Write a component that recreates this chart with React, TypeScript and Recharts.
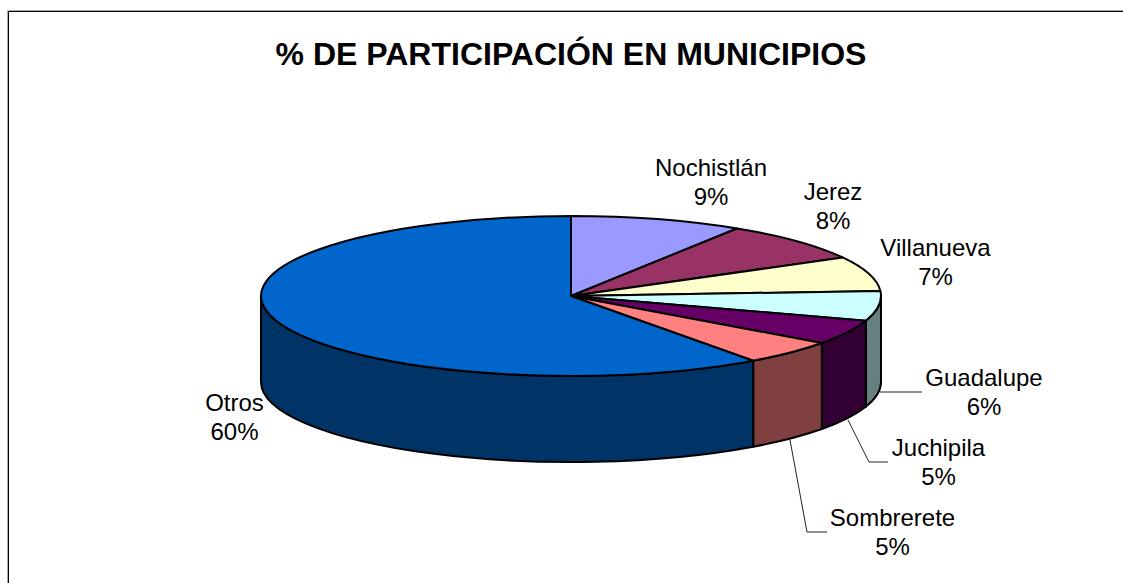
import { PieChart, Pie, Cell } from 'recharts';

const municipios = ['Nochistlán', 'Jerez', 'Villanueva', 'Guadalupe', 'Juchipila', 'Sombrerete', 'Otros'];
const participacion = [9, 8, 7, 6, 5, 5, 60];
const topColors = ['#9999FF', '#993366', '#FFFFCC', '#CCFFFF', '#660066', '#FF8080', '#0066CC'];
const wallColors = ['#4D4D80', '#4D1A33', '#808066', '#668080', '#330033', '#804040', '#003366'];

const chartData = municipios.map((name, i) => ({ name, value: participacion[i] }));

// pie is squashed by hand, recharts only knows circles
const CX = 571;
const CY = 296;
const RX = 310;
const RY = 80;
const DEPTH = 86;
const FONT = 'Liberation Sans';

// label anchor and optional leader polyline, by municipio
const labelLayout: Record<string, { x: number; y: number; leader?: number[][] }> = {
  'Nochistlán': { x: 711, y: 176 },
  'Jerez': { x: 833, y: 200 },
  'Villanueva': { x: 935.5, y: 256 },
  'Guadalupe': { x: 984, y: 386, leader: [[880, 392], [922, 392]] },
  'Juchipila': { x: 938.5, y: 456, leader: [[848, 420], [869, 462], [888, 462]] },
  'Sombrerete': { x: 892.5, y: 526, leader: [[790, 440], [807, 532], [827, 532]] },
  'Otros': { x: 234.5, y: 411 },
};

const px = (deg: number) => CX + RX * Math.cos((deg * Math.PI) / 180);
const py = (deg: number) => CY - RY * Math.sin((deg * Math.PI) / 180);

const SliceShape = (props: any) => {
  const { startAngle, endAngle, index } = props;
  const top = `M${CX},${CY} L${px(startAngle)},${py(startAngle)} A${RX},${RY} 0 ${
    startAngle - endAngle > 180 ? 1 : 0
  } 1 ${px(endAngle)},${py(endAngle)} Z`;

  // front wall: only the part of the arc below the horizon, 0 to -180 going clockwise
  const from = Math.min(startAngle, 0);
  const to = Math.max(endAngle, -180);
  const wall =
    from > to
      ? `M${px(from)},${py(from)} A${RX},${RY} 0 0 1 ${px(to)},${py(to)} L${px(to)},${py(to) + DEPTH} A${RX},${RY} 0 0 0 ${px(from)},${py(from) + DEPTH} Z`
      : null;

  return (
    <g>
      {wall && <path d={wall} fill={wallColors[index]} stroke="#000" strokeWidth={2} strokeLinejoin="round" />}
      <path d={top} fill={topColors[index]} stroke="#000" strokeWidth={2} strokeLinejoin="round" />
    </g>
  );
};

const SliceLabel = (props: any) => {
  const item = labelLayout[props.name];
  if (!item) return null;
  return (
    <g>
      {item.leader && (
        <polyline points={item.leader.map((p) => p.join(',')).join(' ')} fill="none" stroke="#222" strokeWidth={1} />
      )}
      <text x={item.x} y={item.y} textAnchor="middle" fontFamily={FONT} fontSize={24} fill="#000">
        {props.name}
      </text>
      <text x={item.x} y={item.y + 29} textAnchor="middle" fontFamily={FONT} fontSize={24} fill="#000">
        {`${participacion[props.index]}%`}
      </text>
    </g>
  );
};

const App = () => {
  return (
    <div style={{ position: 'absolute', left: 0, top: 0, width: 1123, height: 583, background: '#fff', overflow: 'hidden' }}>
      <PieChart width={1123} height={583} margin={{ top: 0, right: 0, bottom: 0, left: 0 }}>
        <path d="M7.5,583 V10.5 H1123" fill="none" stroke="#aaa" strokeWidth={1} />
        <path d="M8.5,583 V11.5 H1123" fill="none" stroke="#000" strokeWidth={1} />
        <text x={571} y={65} textAnchor="middle" fontFamily={FONT} fontWeight="bold" fontSize={32} fill="#000">
          % DE PARTICIPACIÓN EN MUNICIPIOS
        </text>
        <Pie
          data={chartData}
          dataKey="value"
          nameKey="name"
          cx={CX}
          cy={CY}
          outerRadius={RX}
          startAngle={90}
          endAngle={-270}
          paddingAngle={0}
          shape={SliceShape}
          label={SliceLabel}
          labelLine={false}
          isAnimationActive={false}
        >
          {chartData.map((d) => (
            <Cell key={d.name} />
          ))}
        </Pie>
      </PieChart>
    </div>
  );
};

export default App;
